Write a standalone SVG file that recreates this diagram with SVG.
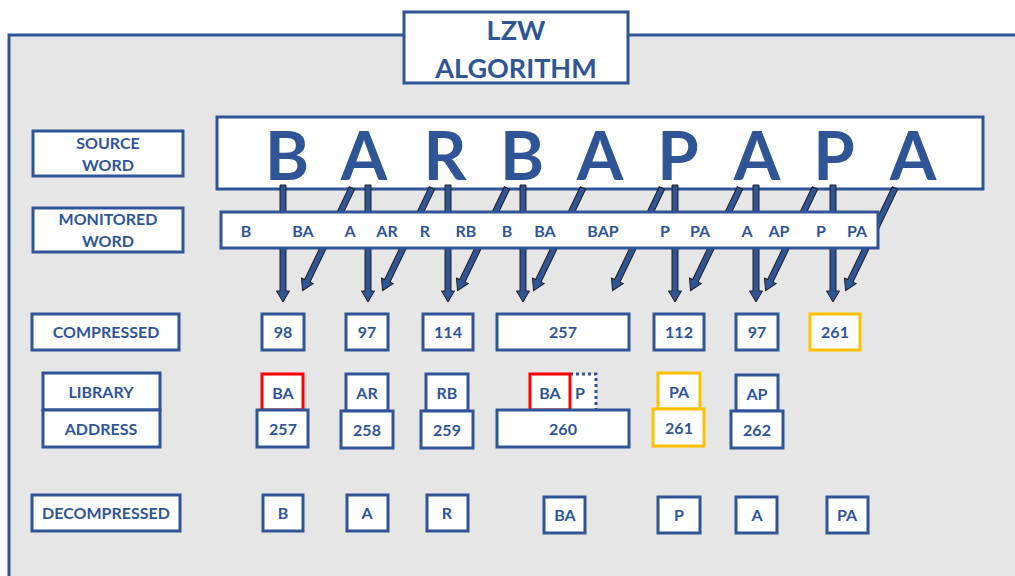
<svg xmlns="http://www.w3.org/2000/svg" xmlns:xlink="http://www.w3.org/1999/xlink" width="1015" height="576" viewBox="0 0 1015 576">
<style>
.bx{fill:#ffffff;stroke:#2f5597;stroke-width:3}
.rd{fill:#ffffff;stroke:#ff0000;stroke-width:3}
.og{fill:#ffffff;stroke:#ffc000;stroke-width:3}
.t{font-family:Lato,"Open Sans",sans-serif;font-weight:bold;fill:#2f5597;text-anchor:middle}
.s{font-size:16px}
.m{font-size:16px}
.big{font-size:67px}
.ttl{font-size:27px}
.arr{fill:#2f5597;stroke:#1e1e1e;stroke-width:1}
</style>
<defs>
<path id="va" class="arr" d="M-3,0 H3 V106 H6.5 L0,117 L-6.5,106 H-3 Z"/>
<path id="da" class="arr" d="M-3,0 H3 V103 H6.5 L0,114 L-6.5,103 H-3 Z"/>
</defs>
<rect width="1015" height="576" fill="#ffffff"/>
<rect id="panel" x="9" y="35" width="1030" height="570" fill="#e6e6e6" stroke="#2f5597" stroke-width="3"/>

<g id="title">
<rect class="bx" x="404" y="12" width="224" height="71"/>
<text class="t ttl" x="516" y="40">LZW</text>
<text class="t ttl" x="516" y="78">ALGORITHM</text>
</g>

<g id="source-label">
<rect class="bx" x="33" y="131" width="150" height="45"/>
<text class="t s" x="108" y="149">SOURCE</text>
<text class="t s" x="108" y="171">WORD</text>
</g>
<g id="source-word">
<rect class="bx" x="217" y="117" width="766" height="72"/>
<text class="t big" x="287" y="180">B</text>
<text class="t big" x="364" y="180">A</text>
<text class="t big" x="445" y="180">R</text>
<text class="t big" x="522" y="180">B</text>
<text class="t big" x="600" y="180">A</text>
<text class="t big" x="678" y="180">P</text>
<text class="t big" x="757" y="180">A</text>
<text class="t big" x="834" y="180">P</text>
<text class="t big" x="913" y="180">A</text>
</g>

<g id="connectors">
<use href="#va" x="283" y="185"/>
<use href="#va" x="368" y="185"/>
<use href="#va" x="448" y="185"/>
<use href="#va" x="523" y="185"/>
<use href="#va" x="675" y="185"/>
<use href="#va" x="756" y="185"/>
<use href="#va" x="833" y="185"/>
<use href="#da" transform="translate(352,188) rotate(25.7)"/>
<use href="#da" transform="translate(432,188) rotate(25.7)"/>
<use href="#da" transform="translate(507,188) rotate(25.7)"/>
<use href="#da" transform="translate(583,188) rotate(25.7)"/>
<use href="#da" transform="translate(662,188) rotate(25.7)"/>
<use href="#da" transform="translate(740,188) rotate(25.7)"/>
<use href="#da" transform="translate(815,188) rotate(25.7)"/>
<use href="#da" transform="translate(895,188) rotate(25.7)"/>
</g>

<g id="monitored-label">
<rect class="bx" x="33" y="208" width="150" height="44"/>
<text class="t s" x="108" y="225">MONITORED</text>
<text class="t s" x="108" y="247">WORD</text>
</g>
<g id="monitored-word">
<rect class="bx" x="221" y="212" width="657" height="36"/>
<text class="t m" x="246" y="237">B</text>
<text class="t m" x="303" y="237">BA</text>
<text class="t m" x="350" y="237">A</text>
<text class="t m" x="387" y="237">AR</text>
<text class="t m" x="425" y="237">R</text>
<text class="t m" x="466" y="237">RB</text>
<text class="t m" x="507" y="237">B</text>
<text class="t m" x="545" y="237">BA</text>
<text class="t m" x="603" y="237">BAP</text>
<text class="t m" x="665" y="237">P</text>
<text class="t m" x="700" y="237">PA</text>
<text class="t m" x="747" y="237">A</text>
<text class="t m" x="779" y="237">AP</text>
<text class="t m" x="821" y="237">P</text>
<text class="t m" x="857" y="237">PA</text>
</g>

<g id="compressed-label">
<rect class="bx" x="32" y="314" width="147" height="36"/>
<text class="t s" x="106" y="338">COMPRESSED</text>
</g>
<g id="compressed">
<rect class="bx" x="262" y="314" width="42" height="36"/><text class="t s" x="283" y="338">98</text>
<rect class="bx" x="346" y="314" width="42" height="36"/><text class="t s" x="367" y="338">97</text>
<rect class="bx" x="423" y="314" width="50" height="36"/><text class="t s" x="448" y="338">114</text>
<rect class="bx" x="497" y="314" width="132" height="36"/><text class="t s" x="563" y="338">257</text>
<rect class="bx" x="654" y="314" width="50" height="36"/><text class="t s" x="679" y="338">112</text>
<rect class="bx" x="736" y="314" width="42" height="36"/><text class="t s" x="757" y="338">97</text>
<rect class="og" x="810" y="314" width="50" height="36"/><text class="t s" x="835" y="338">261</text>
</g>

<g id="library-label">
<rect class="bx" x="43" y="373" width="117" height="37"/>
<text class="t s" x="101" y="398">LIBRARY</text>
<rect class="bx" x="43" y="410" width="117" height="37"/>
<text class="t s" x="101" y="435">ADDRESS</text>
</g>
<g id="library">
<rect rx="0" x="570" y="374" width="26" height="36" fill="#ffffff"/>
<path d="M570,374 H596 V410" fill="none" stroke="#2f5597" stroke-width="3" stroke-dasharray="3 3"/>
<text class="t s" x="580" y="399">P</text>
<rect class="rd" x="262" y="374" width="41" height="36"/><text class="t s" x="283" y="399">BA</text>
<rect class="bx" x="257" y="410" width="51" height="37"/><text class="t s" x="283" y="435">257</text>
<rect class="bx" x="346" y="374" width="42" height="37"/><text class="t s" x="367" y="399">AR</text>
<rect class="bx" x="341" y="411" width="52" height="37"/><text class="t s" x="367" y="436">258</text>
<rect class="bx" x="426" y="374" width="42" height="37"/><text class="t s" x="447" y="399">RB</text>
<rect class="bx" x="421" y="411" width="52" height="37"/><text class="t s" x="447" y="436">259</text>
<rect class="rd" x="530" y="374" width="40" height="36"/><text class="t s" x="550" y="399">BA</text>
<rect class="bx" x="497" y="410" width="132" height="37"/><text class="t s" x="563" y="435">260</text>
<rect class="og" x="658" y="373" width="42" height="36"/><text class="t s" x="679" y="398">PA</text>
<rect class="og" x="653" y="409" width="51" height="37"/><text class="t s" x="679" y="434">261</text>
<rect class="bx" x="736" y="375" width="42" height="36"/><text class="t s" x="757" y="400">AP</text>
<rect class="bx" x="731" y="411" width="52" height="37"/><text class="t s" x="757" y="436">262</text>
</g>

<g id="decompressed-label">
<rect class="bx" x="32" y="495" width="148" height="36"/>
<text class="t s" x="106" y="519">DECOMPRESSED</text>
</g>
<g id="decompressed">
<rect class="bx" x="263" y="495" width="40" height="36"/><text class="t s" x="283" y="519">B</text>
<rect class="bx" x="347" y="495" width="41" height="36"/><text class="t s" x="367" y="519">A</text>
<rect class="bx" x="427" y="495" width="41" height="36"/><text class="t s" x="447" y="519">R</text>
<rect class="bx" x="544" y="497" width="41" height="36"/><text class="t s" x="565" y="521">BA</text>
<rect class="bx" x="658" y="497" width="42" height="36"/><text class="t s" x="679" y="521">P</text>
<rect class="bx" x="736" y="497" width="41" height="36"/><text class="t s" x="757" y="521">A</text>
<rect class="bx" x="827" y="497" width="41" height="36"/><text class="t s" x="847" y="521">PA</text>
</g>
</svg>
